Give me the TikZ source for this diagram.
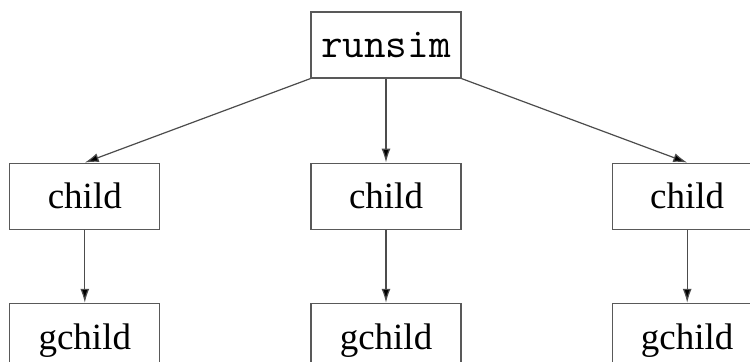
\documentclass[tikz,border=0pt]{standalone}
\usepackage{fontspec}
\setmainfont{Liberation Serif}
\usetikzlibrary{positioning,arrows.meta}

\begin{document}
\begin{tikzpicture}[
    node distance=42pt and 75pt,
    box/.style={draw=black!65, line width=0.6pt, minimum width=75pt, minimum height=33pt,
                inner sep=2pt, font=\fontsize{18.5}{22}\selectfont},
    ar/.style={-{Latex[length=7pt,width=4.5pt,fill=black]}, draw=black!70, line width=0.6pt},
]
\path[use as bounding box, clip] (-193pt,22.5pt) rectangle (182pt,-158.5pt);
\fill[white] (-193pt,22.5pt) rectangle (182pt,-158.5pt);

% Parent process.
\node[box, font=\ttfamily\fontsize{21}{24}\selectfont] (runsim) at (0,0) {runsim};

% Children.
\node[box, below=of runsim]      (mchild) {child};
\node[box, left=of mchild]       (lchild) {child};
\node[box, right=of mchild]      (rchild) {child};

% Grandchildren.
\node[box, minimum height=37pt, below=36.5pt of lchild] (lgchild) {gchild};
\node[box, minimum height=37pt, below=36.5pt of mchild] (mgchild) {gchild};
\node[box, minimum height=37pt, below=36.5pt of rchild] (rgchild) {gchild};

% Forks.
\draw[ar] (runsim.south west) -- (lchild.north);
\draw[ar] (runsim.south) -- (mchild.north);
\draw[ar] (runsim.south east) -- (rchild.north);
\draw[ar] (lchild) -- (lgchild);
\draw[ar] (mchild) -- (mgchild);
\draw[ar] (rchild) -- (rgchild);
\end{tikzpicture}
\end{document}
